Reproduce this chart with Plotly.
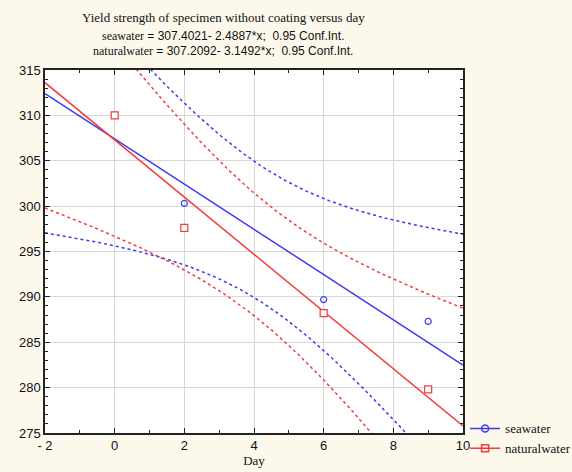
import numpy as np
import plotly.graph_objects as go

days = [0, 2, 6, 9]
seawater = [310.0, 300.3, 289.7, 287.3]
naturalwater = [310.0, 297.6, 288.2, 279.8]
x_ticks = [-2, 0, 2, 4, 6, 8, 10]
x_ticktext = ["- 2", "0", "2", "4", "6", "8", "10"]
y_ticks = [275, 280, 285, 290, 295, 300, 305, 310, 315]

BLUE = "#3b3bf5"
RED = "#f53b3b"
T975_DF2 = 4.3027

def fit_band(x, y, xs):
    x = np.asarray(x, float); y = np.asarray(y, float)
    b, a = np.polyfit(x, y, 1)
    yhat = a + b * x
    n = len(x)
    s = np.sqrt(np.sum((y - yhat) ** 2) / (n - 2))
    sxx = np.sum((x - x.mean()) ** 2)
    fit = a + b * xs
    half = T975_DF2 * s * np.sqrt(1.0 / n + (xs - x.mean()) ** 2 / sxx)
    return fit, fit - half, fit + half

xs = np.linspace(-2, 10, 241)
fig = go.Figure()
for vals, col in [(seawater, BLUE), (naturalwater, RED)]:
    fit, lo, hi = fit_band(days, vals, xs)
    fig.add_trace(go.Scatter(x=xs, y=fit, mode="lines", line=dict(color=col, width=1.5), showlegend=False, hoverinfo="skip"))
    fig.add_trace(go.Scatter(x=xs, y=lo, mode="lines", line=dict(color=col, width=1.5, dash="dot"), showlegend=False, hoverinfo="skip"))
    fig.add_trace(go.Scatter(x=xs, y=hi, mode="lines", line=dict(color=col, width=1.5, dash="dot"), showlegend=False, hoverinfo="skip"))

fig.add_trace(go.Scatter(x=days, y=seawater, mode="markers", name="seawater",
                         marker=dict(symbol="circle-open", color=BLUE, size=6, line=dict(width=1.2)),
                         showlegend=False))
fig.add_trace(go.Scatter(x=days, y=naturalwater, mode="markers", name="naturalwater",
                         marker=dict(symbol="square", color="white", size=7, line=dict(width=1.2, color=RED)),
                         showlegend=False))
# legend entries
fig.add_trace(go.Scatter(x=[None], y=[None], mode="lines+markers", name="seawater",
                         line=dict(color=BLUE, width=1.5),
                         marker=dict(symbol="circle-open", color=BLUE, size=7, line=dict(width=1.5))))
fig.add_trace(go.Scatter(x=[None], y=[None], mode="lines+markers", name="naturalwater",
                         line=dict(color=RED, width=1.5),
                         marker=dict(symbol="square-open", color=RED, size=7, line=dict(width=1.5))))

SERIF = "Liberation Serif"
SANS = "Liberation Sans"
annots = [
    dict(text="Yield strength of specimen without coating versus day", y=18, size=13, fam=SERIF),
    dict(text=f"<span style='font-family:{SERIF}'>seawater</span> = 307.4021- 2.4887*x;  0.95 Conf.Int.", y=36, size=12, fam=SANS),
    dict(text=f"<span style='font-family:{SERIF}'>naturalwater</span> = 307.2092- 3.1492*x;  0.95 Conf.Int.", y=51, size=12, fam=SANS),
]
for a in annots:
    fig.add_annotation(text=a["text"], xref="paper", yref="paper",
                       x=(223 - 45) / (463 - 45), y=1 + (70 - a["y"]) / (433 - 70),
                       xanchor="center", yanchor="middle", showarrow=False,
                       font=dict(family=a["fam"], size=a["size"], color="#111"))

fig.update_layout(
    width=572, height=472,
    margin=dict(l=45, r=109, t=70, b=39, autoexpand=False),
    paper_bgcolor="#fdf8ec", plot_bgcolor="white",
    font=dict(family=SANS, size=12, color="#111"),
    legend=dict(x=1.005, y=-0.015, xanchor="left", yanchor="middle", bgcolor="rgba(0,0,0,0)",
                font=dict(family=SERIF, size=13), tracegroupgap=0, itemwidth=30),
)
fig.update_xaxes(range=[-2, 10], tickvals=x_ticks, ticktext=x_ticktext,
                 showgrid=True, gridcolor="#d8d8d8", gridwidth=1,
                 showline=True, linecolor="#222", linewidth=1.5, mirror="ticks",
                 ticks="inside", ticklen=5, tickcolor="#222",
                 minor=dict(dtick=1, ticks="inside", ticklen=3, tickcolor="#222", showgrid=False),
                 zeroline=False, title=dict(text="Day", font=dict(family=SERIF, size=13), standoff=2),
                 tickfont=dict(size=13))
fig.update_yaxes(range=[275, 315], tickvals=y_ticks,
                 showgrid=True, gridcolor="#d8d8d8", gridwidth=1,
                 showline=True, linecolor="#222", linewidth=1.5, mirror="ticks",
                 ticks="inside", ticklen=5, tickcolor="#222",
                 minor=dict(dtick=1, ticks="inside", ticklen=3, tickcolor="#222", showgrid=False),
                 zeroline=False, tickfont=dict(size=13))

fig.write_html("out.html")
